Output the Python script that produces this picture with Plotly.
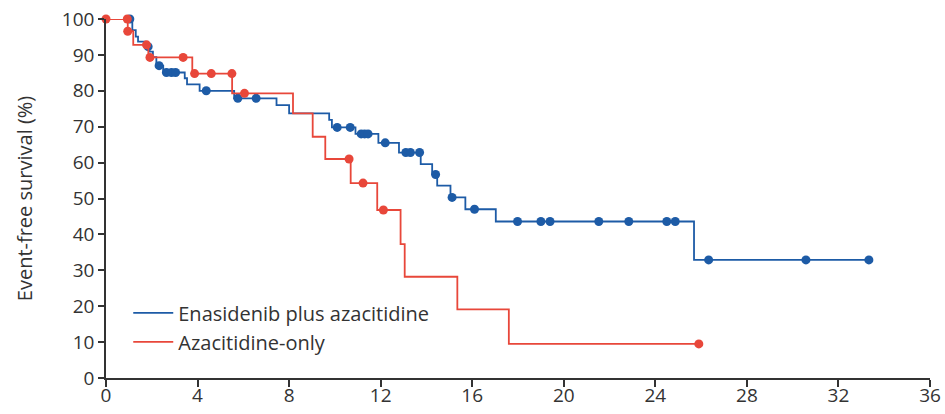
import numpy as np
import plotly.graph_objects as go

# Enasidenib plus azacitidine: step times (months) and event-free survival (%)
ena_t = [0, 1.15, 1.3, 1.4, 1.7, 1.9, 2.05, 2.2, 2.5, 3.44, 3.54, 4.09, 5.6, 7.45, 8.0,
         9.75, 9.87, 10.9, 11.9, 12.8, 13.75, 14.25, 14.47, 15.05, 15.7, 17.03, 25.69]
ena_s = [100, 96.9, 95.1, 93.7, 92.3, 90.9, 89.4, 87.0, 85.1, 83.5, 81.8, 80.0, 77.9, 76.0, 73.7,
         71.9, 69.8, 68.0, 65.5, 62.8, 59.6, 56.7, 53.6, 50.3, 47.0, 43.6, 32.9]
ena_end = 33.33
ena_cens = [1.04, 1.84, 2.32, 2.64, 2.86, 3.04, 4.38, 5.76, 6.56, 10.1, 10.67, 11.15, 11.3, 11.45,
            12.2, 13.1, 13.3, 13.7, 14.4, 15.12, 16.1, 17.98, 19.0, 19.4, 21.53, 22.84, 24.5,
            24.87, 26.33, 30.58, 33.33]

# Azacitidine-only
aza_t = [0, 0.95, 1.19, 1.85, 3.77, 5.51, 8.17, 9.03, 9.58, 10.69, 11.85, 12.87, 13.05, 15.35, 17.6]
aza_s = [100, 96.6, 92.8, 89.3, 84.8, 79.3, 73.7, 67.2, 61.0, 54.3, 46.8, 37.3, 28.2, 19.1, 9.5]
aza_end = 25.9
aza_cens = [0, 0.93, 0.95, 1.77, 1.92, 3.37, 3.87, 4.6, 5.5, 6.05, 10.62, 11.23, 12.12, 25.9]

x_ticks = [0, 4, 8, 12, 16, 20, 24, 28, 32, 36]
y_ticks = [0, 10, 20, 30, 40, 50, 60, 70, 80, 90, 100]

BLUE = "#1d5ba6"
RED = "#e8473a"
FONT = "Open Sans"
TXT = "#333333"


def level(ts, ss, t):
    i = np.searchsorted(np.array(ts), t, side="right") - 1
    return ss[i]


fig = go.Figure()
for name, ts, ss, end, cens, col in [
    ("Enasidenib plus azacitidine", ena_t, ena_s, ena_end, ena_cens, BLUE),
    ("Azacitidine-only", aza_t, aza_s, aza_end, aza_cens, RED),
]:
    fig.add_trace(go.Scatter(
        x=list(ts) + [end], y=list(ss) + [ss[-1]], mode="lines", name=name,
        line=dict(color=col, width=1.8, shape="hv"), cliponaxis=False,
    ))
    fig.add_trace(go.Scatter(
        x=cens, y=[level(ts, ss, c) for c in cens], mode="markers", showlegend=False,
        marker=dict(color=col, size=9), cliponaxis=False,
    ))

fig.update_layout(
    width=945, height=414,
    margin=dict(l=106, r=15, t=19, b=36),
    plot_bgcolor="white", paper_bgcolor="white",
    font=dict(family=FONT, size=19, color=TXT),
    legend=dict(x=0.027, y=0.236, xanchor="left", yanchor="top", itemwidth=40,
                font=dict(size=20, color=TXT), bgcolor="rgba(0,0,0,0)"),
    xaxis=dict(range=[0, 36], tickvals=x_ticks, showline=True, linecolor="#333333", linewidth=1.5,
               ticks="outside", ticklen=7, tickcolor="#333333", tickwidth=1.5, automargin=False,
               ticklabelstandoff=-8,
               showgrid=False, zeroline=False, tickfont=dict(size=19, color=TXT)),
    yaxis=dict(range=[0, 100], tickvals=y_ticks, showline=True, linecolor="#333333", linewidth=1.5,
               ticks="outside", ticklen=6, tickcolor="#333333", tickwidth=1.5, automargin=False,
               showgrid=False, zeroline=False, tickfont=dict(size=19, color=TXT),
               title=dict(text="Event-free survival (%)", font=dict(size=20, color=TXT), standoff=24)),
    showlegend=True,
)

fig.write_html("out.html", config={"displayModeBar": False},
               post_script="document.body.style.margin='0';document.body.style.overflow='hidden';")
